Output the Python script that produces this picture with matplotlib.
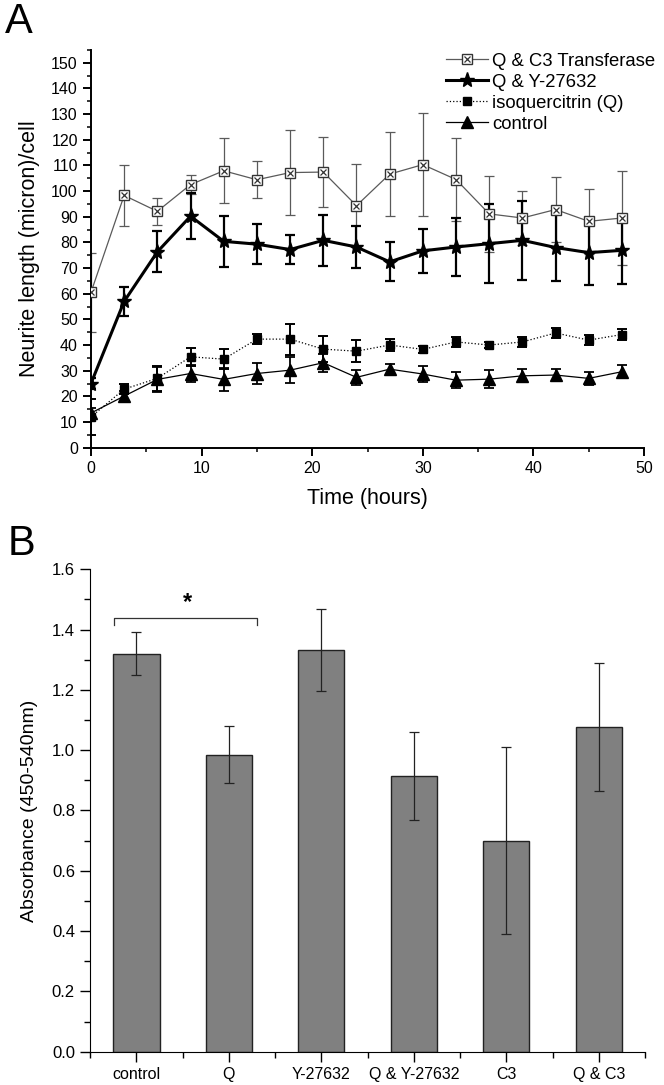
import matplotlib
matplotlib.use('Agg')
import matplotlib.pyplot as plt
from matplotlib.lines import Line2D
from matplotlib.legend_handler import HandlerTuple
from matplotlib.ticker import MultipleLocator, FormatStrFormatter

plt.rcParams['font.family'] = ['Liberation Sans', 'DejaVu Sans']

# panel A: neurite length over time
hours = [0, 3, 6, 9, 12, 15, 18, 21, 24, 27, 30, 33, 36, 39, 42, 45, 48]

c3_mean = [60.5, 98.3, 92.1, 102.5, 107.9, 104.4, 107.2, 107.4, 94.3, 106.6,
           110.3, 104.5, 91.1, 89.5, 92.8, 88.2, 89.5]
c3_err = [15.5, 12.0, 5.3, 3.8, 12.7, 7.3, 16.4, 13.6, 16.2, 16.3,
          20.0, 16.0, 14.7, 10.5, 12.7, 12.6, 18.3]

y27_mean = [25.0, 57.0, 76.3, 90.2, 80.4, 79.3, 77.2, 80.8, 78.2, 72.4,
            76.7, 78.2, 79.5, 80.8, 78.0, 76.0, 76.9]
y27_err = [2.0, 5.5, 8.0, 9.0, 10.0, 7.7, 5.8, 9.9, 8.0, 7.6,
           8.5, 11.4, 15.5, 15.5, 13.0, 12.7, 13.2]

iso_mean = [12.0, 22.8, 27.0, 35.4, 34.5, 42.3, 42.3, 38.4, 37.6, 40.0,
            38.3, 41.2, 40.0, 41.2, 44.7, 41.9, 44.1]
iso_err = [7.0, 2.0, 5.0, 3.5, 3.8, 2.0, 6.0, 5.0, 4.3, 2.5,
           1.3, 2.0, 1.0, 2.0, 2.0, 2.0, 2.0]

ctrl_mean = [13.5, 20.1, 26.6, 28.9, 26.6, 28.9, 30.2, 33.1, 27.4, 30.6,
             28.7, 26.3, 26.7, 28.0, 28.3, 27.0, 29.6]
ctrl_err = [2.0, 2.0, 5.0, 3.5, 4.5, 4.0, 5.0, 3.5, 3.0, 2.0,
            3.0, 3.0, 3.5, 2.5, 2.5, 2.5, 2.5]

# panel B: absorbance
groups = ['control', 'Q', 'Y-27632', 'Q & Y-27632', 'C3', 'Q & C3']
absorb = [1.32, 0.985, 1.333, 0.913, 0.70, 1.078]
absorb_err = [0.072, 0.095, 0.135, 0.146, 0.31, 0.212]

fig = plt.figure(figsize=(6.64, 10.85), dpi=100)

axA = fig.add_axes([0.137, 0.5874, 0.833, 0.3666])
axB = fig.add_axes([0.1358, 0.0307, 0.8356, 0.4446])

gray = '#5a5a5a'
styles = [
    dict(color=gray, lw=0.9, ls='-', marker='s', ms=7, mec='#333333', mfc='white', mew=1.0),
    dict(color='black', lw=2.2, ls='-', marker='*', ms=11, mec='black', mfc='black'),
    dict(color='black', lw=0.9, ls=':', marker='s', ms=6, mec='black', mfc='black'),
    dict(color='black', lw=0.9, ls='-', marker='^', ms=8, mec='black', mfc='black'),
]
series = [
    ('Q & C3 Transferase', c3_mean, c3_err, 0.9),
    ('Q & Y-27632', y27_mean, y27_err, 1.6),
    ('isoquercitrin (Q)', iso_mean, iso_err, 1.4),
    ('control', ctrl_mean, ctrl_err, 1.3),
]
cross = dict(ls='none', marker='x', ms=4.5, mec='#333333', mew=0.9)

handles = []
for i, ((name, m, e, ew), st) in enumerate(zip(series, styles)):
    axA.errorbar(hours, m, yerr=e, fmt='none', ecolor=st['color'], elinewidth=ew,
                 capsize=3.5, capthick=ew, zorder=2)
    axA.plot(hours, m, zorder=3, **st)
    if i == 0:
        axA.plot(hours, m, zorder=3.1, **cross)
        handles.append((Line2D([], [], **st), Line2D([], [], **cross)))
    else:
        handles.append(Line2D([], [], **st))

axA.set_xlim(0, 50)
axA.set_ylim(0, 155)
axA.xaxis.set_major_locator(MultipleLocator(10))
axA.xaxis.set_minor_locator(MultipleLocator(5))
axA.set_yticks(range(0, 151, 10))
axA.yaxis.set_minor_locator(MultipleLocator(5))
for s in ['top', 'right']:
    axA.spines[s].set_visible(False)
axA.spines['left'].set_linewidth(1.4)
axA.spines['bottom'].set_linewidth(1.4)
axA.tick_params(which='major', length=6, width=1.4, labelsize=11.5, pad=3.5)
axA.tick_params(which='minor', length=3, width=1.1)
axA.set_xlabel('Time (hours)', fontsize=15.5, labelpad=9)
axA.set_ylabel('Neurite length (micron)/cell', fontsize=15.5, labelpad=8)

axA.legend(handles, [s[0] for s in series], loc='upper right', frameon=False,
           fontsize=13.3, handlelength=2.3, handletextpad=0.2, labelspacing=0.22,
           bbox_to_anchor=(1.05, 1.035),
           handler_map={tuple: HandlerTuple(ndivide=1)})

# panel B bars
xpos = list(range(1, len(groups) + 1))
axB.bar(xpos, absorb, width=0.5, color='#808080', edgecolor='#222222', lw=1.0)
axB.errorbar(xpos, absorb, yerr=absorb_err, fmt='none', ecolor='#222222',
             elinewidth=0.9, capsize=3.5, capthick=0.9)
axB.set_xlim(0.5, 6.5)
axB.set_ylim(0, 1.6)
axB.set_xticks(xpos)
axB.set_xticklabels(groups)
axB.xaxis.set_minor_locator(MultipleLocator(1, offset=0.5))
axB.yaxis.set_major_locator(MultipleLocator(0.2))
axB.yaxis.set_minor_locator(MultipleLocator(0.1))
axB.yaxis.set_major_formatter(FormatStrFormatter('%.1f'))
for s in ['top', 'right']:
    axB.spines[s].set_visible(False)
axB.tick_params(which='major', length=7, width=1.0, labelsize=12, pad=4)
axB.tick_params(axis='x', which='major', labelsize=11.5)
axB.tick_params(which='minor', length=4, width=1.0)
axB.set_ylabel('Absorbance (450-540nm)', fontsize=14, labelpad=10)

# significance bracket
axB.plot([0.76, 0.76, 2.3, 2.3], [1.414, 1.44, 1.44, 1.414], color='#333333', lw=0.9)
axB.text(1.553, 1.452, '*', ha='center', va='bottom', fontsize=17, fontweight='bold')

fig.text(0.008, 0.998, 'A', fontsize=30, va='top', ha='left')
fig.text(0.012, 0.517, 'B', fontsize=30, va='top', ha='left')

fig.savefig('out.png', dpi=100)
